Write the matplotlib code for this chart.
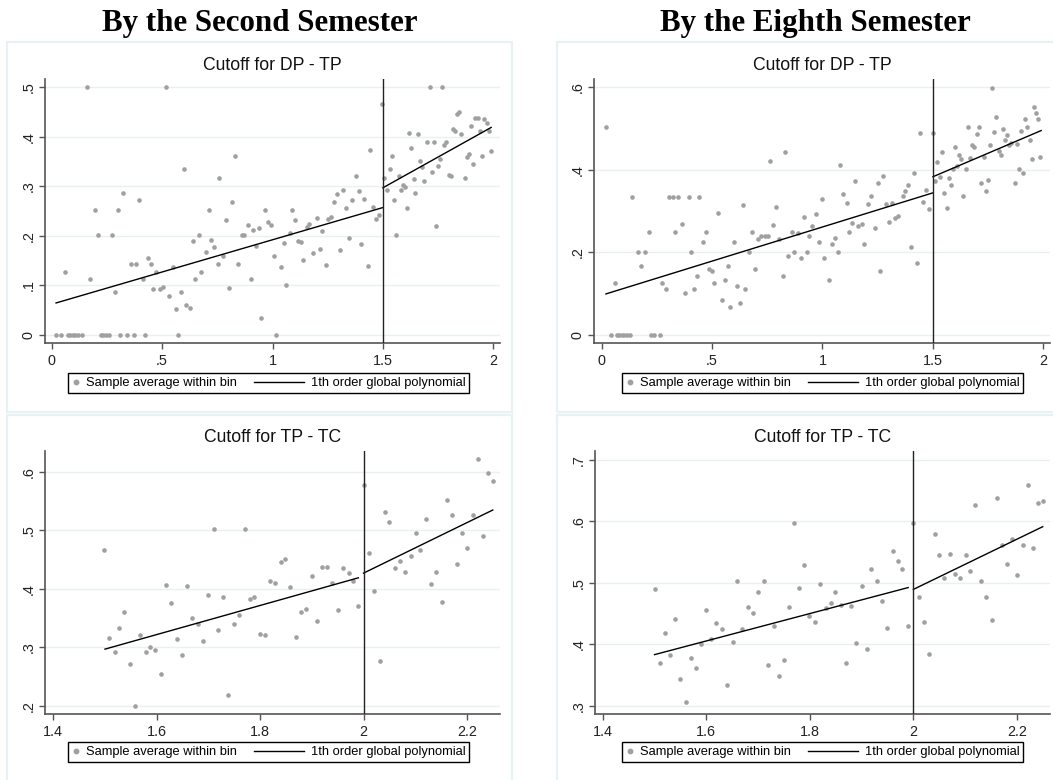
import matplotlib
matplotlib.use("Agg")
import matplotlib.pyplot as plt
import numpy as np
from matplotlib.lines import Line2D
from matplotlib.legend_handler import HandlerLine2D
from matplotlib.patches import Rectangle
from matplotlib.ticker import FuncFormatter

plt.rcParams['font.family'] = ['Liberation Sans', 'DejaVu Sans']

# ---- data ----
col_titles = ["By the Second Semester", "By the Eighth Semester"]
panel_titles = ["Cutoff for DP - TP", "Cutoff for TP - TC"]
legend_labels = ["Sample average within bin", "1th order global polynomial"]

# second semester, DP - TP
s2_dptp_x = [0.02, 0.043, 0.059, 0.072, 0.083, 0.095, 0.107, 0.12, 0.136, 0.16,
             0.175, 0.195, 0.208, 0.222, 0.234, 0.246, 0.261, 0.272, 0.286, 0.30,
             0.31, 0.325, 0.34, 0.36, 0.373, 0.384, 0.397, 0.412, 0.421, 0.437,
             0.45, 0.461, 0.474, 0.489, 0.503, 0.518, 0.533, 0.548, 0.562, 0.574,
             0.586, 0.601, 0.61, 0.625, 0.639, 0.65, 0.665, 0.678, 0.698, 0.713,
             0.722, 0.737, 0.752, 0.76, 0.776, 0.79, 0.801, 0.816, 0.829, 0.844,
             0.864, 0.873, 0.887, 0.902, 0.911, 0.926, 0.941, 0.95, 0.965, 0.98,
             0.994, 1.009, 1.018, 1.038, 1.051, 1.062, 1.077, 1.09, 1.101, 1.114,
             1.13, 1.14, 1.154, 1.167, 1.182, 1.202, 1.213, 1.226, 1.241, 1.25,
             1.266, 1.279, 1.29, 1.305, 1.319, 1.334, 1.347, 1.362, 1.377, 1.391,
             1.402, 1.415, 1.431, 1.44, 1.455, 1.47, 1.483, 1.498,
             1.507, 1.518, 1.533, 1.542, 1.552, 1.561, 1.572, 1.581, 1.59, 1.599,
             1.609, 1.62, 1.629, 1.639, 1.647, 1.657, 1.668, 1.677, 1.686, 1.701,
             1.711, 1.721, 1.73, 1.739, 1.75, 1.76, 1.768, 1.778, 1.787, 1.797,
             1.807, 1.817, 1.826, 1.836, 1.846, 1.855, 1.871, 1.88, 1.889, 1.9,
             1.909, 1.919, 1.929, 1.938, 1.949, 1.958, 1.969, 1.978, 1.987]
s2_dptp_y = [0, 0, 0.127, 0, 0, 0, 0, 0, 0, 0.501,
             0.112, 0.252, 0.202, 0, 0, 0, 0, 0.202, 0.086, 0.252,
             0, 0.286, 0, 0.143, 0, 0.143, 0.273, 0.112, 0, 0.154,
             0.143, 0.092, 0.126, 0.093, 0.096, 0.501, 0.079, 0.137, 0.051, 0,
             0.086, 0.334, 0.059, 0.053, 0.189, 0.112, 0.202, 0.126, 0.167, 0.252,
             0.191, 0.178, 0.143, 0.317, 0.159, 0.232, 0.094, 0.269, 0.362, 0.143,
             0.202, 0.202, 0.221, 0.112, 0.212, 0.18, 0.215, 0.033, 0.252, 0.228,
             0.222, 0.159, 0, 0.137, 0.185, 0.1, 0.205, 0.252, 0.232, 0.189,
             0.187, 0.15, 0.218, 0.224, 0.166, 0.236, 0.174, 0.209, 0.141, 0.234,
             0.238, 0.269, 0.284, 0.172, 0.293, 0.256, 0.195, 0.273, 0.321, 0.291,
             0.183, 0.275, 0.139, 0.374, 0.258, 0.234, 0.241, 0.467,
             0.317, 0.293, 0.334, 0.362, 0.273, 0.202, 0.321, 0.293, 0.302, 0.298,
             0.256, 0.408, 0.378, 0.314, 0.286, 0.405, 0.352, 0.339, 0.31, 0.389,
             0.501, 0.328, 0.389, 0.22, 0.341, 0.356, 0.501, 0.384, 0.389, 0.323,
             0.321, 0.415, 0.412, 0.447, 0.451, 0.405, 0.317, 0.36, 0.366, 0.421,
             0.346, 0.438, 0.438, 0.412, 0.362, 0.436, 0.427, 0.412, 0.371]
s2_dptp_fit_left = ([0.02, 1.5], [0.064, 0.257])
s2_dptp_fit_right = ([1.5, 1.99], [0.297, 0.419])

# eighth semester, DP - TP
s8_dptp_x = [0.021, 0.042, 0.059, 0.071, 0.08, 0.092, 0.104, 0.116, 0.128, 0.14,
             0.165, 0.18, 0.199, 0.215, 0.222, 0.237, 0.263, 0.276, 0.292, 0.307,
             0.322, 0.331, 0.346, 0.364, 0.379, 0.394, 0.403, 0.418, 0.434, 0.443,
             0.458, 0.471, 0.486, 0.5, 0.511, 0.529, 0.544, 0.559, 0.574, 0.583,
             0.598, 0.612, 0.627, 0.642, 0.651, 0.666, 0.68, 0.695, 0.708, 0.724,
             0.739, 0.752, 0.761, 0.776, 0.792, 0.805, 0.82, 0.829, 0.844, 0.864,
             0.873, 0.888, 0.903, 0.915, 0.928, 0.94, 0.954, 0.969, 0.983, 1.0,
             1.008, 1.028, 1.042, 1.056, 1.072, 1.081, 1.094, 1.11, 1.12, 1.134,
             1.149, 1.162, 1.177, 1.188, 1.206, 1.221, 1.236, 1.251, 1.26, 1.275,
             1.289, 1.3, 1.315, 1.329, 1.344, 1.363, 1.372, 1.386, 1.401, 1.416,
             1.43, 1.44, 1.454, 1.469, 1.484, 1.499,
             1.508, 1.519, 1.532, 1.541, 1.552, 1.563, 1.572, 1.581, 1.59, 1.6,
             1.609, 1.619, 1.628, 1.638, 1.648, 1.657, 1.668, 1.677, 1.686, 1.698,
             1.71, 1.719, 1.73, 1.74, 1.749, 1.758, 1.767, 1.778, 1.787, 1.798,
             1.807, 1.816, 1.827, 1.836, 1.846, 1.855, 1.87, 1.879, 1.888, 1.899,
             1.909, 1.919, 1.928, 1.938, 1.947, 1.956, 1.967, 1.976, 1.985]
s8_dptp_y = [0.503, 0, 0.125, 0, 0, 0, 0, 0, 0, 0.335,
             0.2, 0.167, 0.2, 0.25, 0, 0, 0, 0.125, 0.112, 0.335,
             0.335, 0.25, 0.335, 0.268, 0.102, 0.335, 0.2, 0.112, 0.143, 0.335,
             0.224, 0.25, 0.159, 0.154, 0.125, 0.294, 0.084, 0.133, 0.167, 0.068,
             0.224, 0.117, 0.078, 0.315, 0.112, 0.2, 0.25, 0.159, 0.232, 0.239,
             0.239, 0.239, 0.422, 0.265, 0.31, 0.232, 0.143, 0.442, 0.19, 0.25,
             0.2, 0.247, 0.185, 0.286, 0.2, 0.239, 0.264, 0.292, 0.226, 0.328,
             0.185, 0.133, 0.221, 0.234, 0.2, 0.411, 0.341, 0.32, 0.25, 0.271,
             0.373, 0.263, 0.268, 0.219, 0.318, 0.336, 0.258, 0.367, 0.154, 0.386,
             0.318, 0.273, 0.32, 0.284, 0.289, 0.336, 0.349, 0.362, 0.213, 0.393,
             0.175, 0.489, 0.323, 0.352, 0.305, 0.489,
             0.373, 0.42, 0.383, 0.443, 0.344, 0.307, 0.38, 0.362, 0.403, 0.456,
             0.409, 0.435, 0.427, 0.336, 0.403, 0.503, 0.428, 0.461, 0.454, 0.487,
             0.503, 0.367, 0.432, 0.349, 0.375, 0.461, 0.599, 0.492, 0.529, 0.445,
             0.435, 0.498, 0.471, 0.484, 0.461, 0.466, 0.369, 0.463, 0.401, 0.495,
             0.393, 0.524, 0.503, 0.471, 0.427, 0.552, 0.537, 0.524, 0.43]
s8_dptp_fit_left = ([0.02, 1.5], [0.099, 0.344])
s8_dptp_fit_right = ([1.5, 1.99], [0.383, 0.495])

# second semester, TP - TC
s2_tptc_x = [1.499, 1.508, 1.519, 1.527, 1.537, 1.548, 1.558, 1.568, 1.579, 1.587,
             1.597, 1.608, 1.618, 1.628, 1.639, 1.649, 1.658, 1.668, 1.679, 1.689,
             1.699, 1.71, 1.718, 1.728, 1.738, 1.749, 1.759, 1.77, 1.78, 1.788,
             1.799, 1.809, 1.819, 1.829, 1.84, 1.848, 1.858, 1.869, 1.879, 1.889,
             1.9, 1.91, 1.919, 1.929, 1.94, 1.95, 1.96, 1.971, 1.979, 1.99,
             2.0, 2.01, 2.02, 2.031, 2.041, 2.05, 2.06, 2.07, 2.081, 2.091,
             2.101, 2.11, 2.12, 2.13, 2.141, 2.151, 2.161, 2.172, 2.18, 2.191,
             2.201, 2.211, 2.222, 2.232, 2.24, 2.251]
s2_tptc_y = [0.466, 0.316, 0.292, 0.334, 0.361, 0.272, 0.2, 0.321, 0.292, 0.3,
             0.296, 0.255, 0.407, 0.376, 0.314, 0.287, 0.405, 0.35, 0.34, 0.311,
             0.389, 0.502, 0.329, 0.387, 0.219, 0.34, 0.356, 0.502, 0.383, 0.387,
             0.323, 0.321, 0.414, 0.411, 0.446, 0.451, 0.404, 0.317, 0.36, 0.365,
             0.422, 0.345, 0.438, 0.438, 0.411, 0.364, 0.435, 0.427, 0.413, 0.371,
             0.577, 0.462, 0.397, 0.276, 0.532, 0.515, 0.436, 0.447, 0.429, 0.456,
             0.495, 0.466, 0.519, 0.409, 0.429, 0.378, 0.552, 0.526, 0.442, 0.495,
             0.47, 0.526, 0.623, 0.491, 0.599, 0.585]
s2_tptc_fit_left = ([1.5, 1.99], [0.297, 0.419])
s2_tptc_fit_right = ([2.0, 2.25], [0.427, 0.535])

# eighth semester, TP - TC
s8_tptc_x = [1.5, 1.51, 1.52, 1.529, 1.539, 1.549, 1.56, 1.57, 1.58, 1.589,
             1.599, 1.609, 1.619, 1.63, 1.64, 1.651, 1.659, 1.669, 1.68, 1.69,
             1.7, 1.711, 1.719, 1.73, 1.74, 1.75, 1.76, 1.77, 1.779, 1.789,
             1.799, 1.81, 1.82, 1.831, 1.841, 1.849, 1.86, 1.87, 1.88, 1.89,
             1.9, 1.911, 1.919, 1.929, 1.94, 1.95, 1.96, 1.971, 1.979, 1.99,
             2.0, 2.01, 2.02, 2.031, 2.041, 2.05, 2.06, 2.07, 2.08, 2.091,
             2.101, 2.11, 2.12, 2.13, 2.14, 2.151, 2.161, 2.171, 2.18, 2.19,
             2.201, 2.211, 2.221, 2.231, 2.24, 2.25]
s8_tptc_y = [0.489, 0.37, 0.418, 0.382, 0.441, 0.344, 0.306, 0.378, 0.361, 0.401,
             0.455, 0.408, 0.434, 0.425, 0.334, 0.403, 0.502, 0.425, 0.46, 0.451,
             0.484, 0.502, 0.366, 0.43, 0.349, 0.374, 0.46, 0.597, 0.491, 0.528,
             0.446, 0.436, 0.497, 0.458, 0.467, 0.484, 0.464, 0.369, 0.462, 0.402,
             0.495, 0.392, 0.523, 0.502, 0.47, 0.427, 0.552, 0.536, 0.523, 0.429,
             0.597, 0.477, 0.436, 0.384, 0.579, 0.545, 0.507, 0.546, 0.514, 0.507,
             0.545, 0.519, 0.626, 0.502, 0.477, 0.439, 0.638, 0.561, 0.531, 0.571,
             0.512, 0.561, 0.659, 0.557, 0.63, 0.632]
s8_tptc_fit_left = ([1.5, 1.99], [0.383, 0.492])
s8_tptc_fit_right = ([2.0, 2.25], [0.489, 0.591])

# ---- layout (pixels) ----
W, H = 1053, 780
fig = plt.figure(figsize=(W / 100, H / 100), dpi=100)
fig.patch.set_facecolor('white')

def fx(px):
    return px / W

def fy(py):
    return 1 - py / H

def add_ax(l, t, r, b):
    return fig.add_axes([fx(l), fy(b), fx(r - l), (b - t) / H])

def short(v, pos):
    s = f"{v:g}"
    if s.startswith("0."):
        s = s[1:]
    return s

dot_color = '#a0a0a0'
border_color = '#e8f1f3'

# panel frames
for (l, t, r, b) in [(7, 42, 512, 412), (557, 42, 1062, 412),
                     (7, 415, 512, 790), (557, 415, 1062, 790)]:
    fig.patches.append(Rectangle((fx(l), fy(b)), fx(r - l), (b - t) / H,
                                 transform=fig.transFigure, fill=False,
                                 edgecolor=border_color, linewidth=1.6))

fig.text(fx(260), fy(24), col_titles[0], ha='center', va='center',
         family='Liberation Serif', weight='bold', fontsize=22.3)
fig.text(fx(815), fy(24), col_titles[1], ha='center', va='center',
         family='Liberation Serif', weight='bold', fontsize=22.3)


class LongLine(HandlerLine2D):
    # line sample reaching back into the column gap, as in Stata legends
    def get_xdata(self, legend, xdescent, ydescent, width, height, fontsize):
        x = np.array([-xdescent - 5.5 * width, -xdescent + width])
        return x, x


panels = [
    (s2_dptp_x, s2_dptp_y, s2_dptp_fit_left, s2_dptp_fit_right, 1.5,
     (45, 79, 500, 343), (-0.03, 2.03), (-0.017, 0.517),
     [0, 0.5, 1, 1.5, 2], [0, 0.1, 0.2, 0.3, 0.4, 0.5], panel_titles[0], 66, 268.5, 383),
    (s8_dptp_x, s8_dptp_y, s8_dptp_fit_left, s8_dptp_fit_right, 1.5,
     (594, 79, 1050, 343), (-0.034, 2.03), (-0.02, 0.62),
     [0, 0.5, 1, 1.5, 2], [0, 0.2, 0.4, 0.6], panel_titles[0], 66, 822.5, 383),
    (s2_tptc_x, s2_tptc_y, s2_tptc_fit_left, s2_tptc_fit_right, 2.0,
     (45, 451, 500, 714), (1.384, 2.264), (0.186, 0.636),
     [1.4, 1.6, 1.8, 2, 2.2], [0.2, 0.3, 0.4, 0.5, 0.6], panel_titles[1], 438, 268.5, 752),
    (s8_tptc_x, s8_tptc_y, s8_tptc_fit_left, s8_tptc_fit_right, 2.0,
     (595, 451, 1050, 714), (1.385, 2.264), (0.2865, 0.714),
     [1.4, 1.6, 1.8, 2, 2.2], [0.3, 0.4, 0.5, 0.6, 0.7], panel_titles[1], 438, 822.5, 752),
]

for (xs, ys, fl, fr, cut, rect, xl, yl, xt, yt, title, ty, lx, ly) in panels:
    ax = add_ax(*rect)
    ax.set_xlim(*xl)
    ax.set_ylim(*yl)
    ax.set_xticks(xt)
    ax.set_yticks(yt)
    ax.xaxis.set_major_formatter(FuncFormatter(short))
    ax.yaxis.set_major_formatter(FuncFormatter(short))
    ax.grid(axis='y', color='#e8f0f2', linewidth=1)
    ax.set_axisbelow(True)
    for side in ['top', 'right']:
        ax.spines[side].set_visible(False)
    for side in ['left', 'bottom']:
        ax.spines[side].set_color('#555555')
        ax.spines[side].set_linewidth(1.2)
    ax.tick_params(colors='#555555', labelcolor='#222222', labelsize=10.4,
                   length=4, width=1, direction='out')
    ax.tick_params(axis='x', pad=4)
    ax.tick_params(axis='y', labelrotation=90, pad=3)
    for lab in ax.get_yticklabels():
        lab.set_va('center')

    ax.scatter(xs, ys, s=11, color=dot_color, linewidths=0, zorder=3)
    ax.plot(fl[0], fl[1], color='black', linewidth=1, zorder=4)
    ax.plot(fr[0], fr[1], color='black', linewidth=1, zorder=4)
    ax.axvline(cut, color='#222222', linewidth=1, zorder=4)

    fig.text(fx((rect[0] + rect[2]) / 2), fy(ty), title, ha='center', va='center',
             fontsize=12.7, color='#111111')

    dot = Line2D([], [], marker='o', linestyle='none', color=dot_color, markersize=3.2)
    line = Line2D([], [], color='black', linewidth=1)
    leg = ax.legend([dot, line], legend_labels, handler_map={line: LongLine()},
                    ncol=2, loc='center', bbox_to_anchor=(fx(lx), fy(ly)),
                    bbox_transform=fig.transFigure, fontsize=9.3, numpoints=1,
                    handlelength=0.6, handletextpad=0.5, columnspacing=4.63,
                    borderpad=0.3, fancybox=False, framealpha=1)
    leg.get_frame().set_edgecolor('black')
    leg.get_frame().set_linewidth(1.0)

fig.savefig('out.png', dpi=100)
